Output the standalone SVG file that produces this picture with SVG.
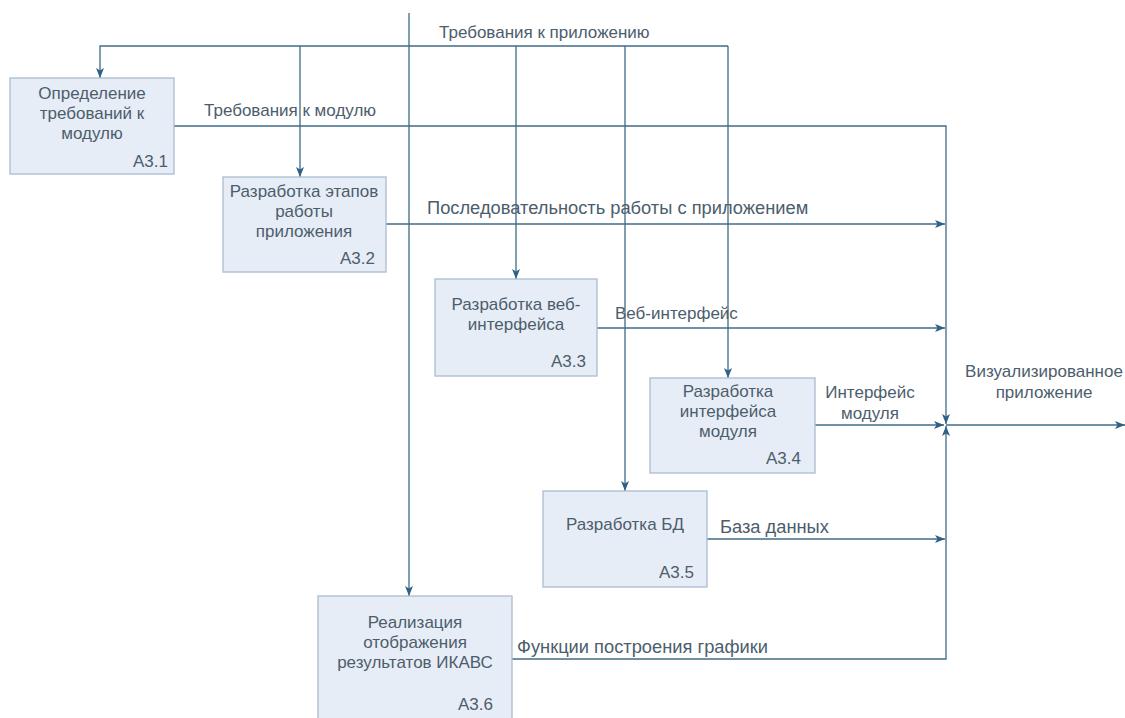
<svg xmlns="http://www.w3.org/2000/svg" width="1125" height="718" viewBox="0 0 1125 718">
<style>
.box{fill:#e7edf6;stroke:#a9bcd0;stroke-width:1.3}
.t{font-family:"Liberation Sans",Arial,sans-serif;font-size:17px;fill:#4c5d6c}
.big{font-size:18.3px}
.c{text-anchor:middle}
.r{text-anchor:end}
.ln{fill:none;stroke:#3f6b88;stroke-width:1.3}
.ar{marker-end:url(#arr)}
</style>
<defs>
<marker id="arr" viewBox="0 0 10 10" refX="10" refY="5" markerWidth="10" markerHeight="10" markerUnits="userSpaceOnUse" orient="auto">
<path d="M0,1 L10,5 L0,9 L2.5,5 Z" fill="#2f5f86"/>
</marker>
</defs>
<rect width="1125" height="718" fill="#ffffff"/>
<g id="connectors">
<path class="ln ar" d="M728,46 H100 V78"/>
<path class="ln ar" d="M300,46 V177"/>
<path class="ln ar" d="M409,13 V596"/>
<path class="ln ar" d="M516,46 V279"/>
<path class="ln ar" d="M625,46 V491"/>
<path class="ln ar" d="M728,46 V378"/>
<path class="ln ar" d="M174,126 H946 V424"/>
<path class="ln ar" d="M386,224 H945"/>
<path class="ln ar" d="M597,328 H945"/>
<path class="ln ar" d="M815,425 H944"/>
<path class="ln ar" d="M707,539 H945"/>
<path class="ln ar" d="M512,659 H946 V426"/>
<path class="ln ar" d="M946,425 H1125"/>
<text class="t" x="439" y="38">Требования к приложению</text>
<text class="t" x="204" y="116">Требования к модулю</text>
<text class="t big" x="427" y="214">Последовательность работы с приложением</text>
<text class="t" x="615" y="319">Веб-интерфейс</text>
<text class="t c" x="870" y="398">Интерфейс</text>
<text class="t c" x="870" y="419">модуля</text>
<text class="t c" x="1044" y="377">Визуализированное</text>
<text class="t c" x="1044" y="398">приложение</text>
<text class="t big" x="720" y="533">База данных</text>
<text class="t big" x="517" y="653">Функции построения графики</text>
</g>
<g id="A3.1">
<rect class="box" x="10" y="78" width="164" height="96"/>
<text class="t c" x="92" y="99">Определение</text>
<text class="t c" x="92" y="119">требований к</text>
<text class="t c" x="92" y="139">модулю</text>
<text class="t r" x="168" y="167">А3.1</text>
</g>
<g id="A3.2">
<rect class="box" x="223" y="177" width="163" height="95"/>
<text class="t c" x="304" y="197">Разработка этапов</text>
<text class="t c" x="304" y="217">работы</text>
<text class="t c" x="304" y="237">приложения</text>
<text class="t r" x="375" y="264">А3.2</text>
</g>
<g id="A3.3">
<rect class="box" x="435" y="279" width="162" height="97"/>
<text class="t c" x="516" y="310">Разработка веб-</text>
<text class="t c" x="516" y="330">интерфейса</text>
<text class="t r" x="586" y="367">А3.3</text>
</g>
<g id="A3.4">
<rect class="box" x="650" y="378" width="165" height="95"/>
<text class="t c" x="728" y="397">Разработка</text>
<text class="t c" x="728" y="417">интерфейса</text>
<text class="t c" x="728" y="437">модуля</text>
<text class="t r" x="801" y="464">А3.4</text>
</g>
<g id="A3.5">
<rect class="box" x="543" y="491" width="164" height="96"/>
<text class="t c" x="625" y="530">Разработка БД</text>
<text class="t r" x="694" y="578">А3.5</text>
</g>
<g id="A3.6">
<rect class="box" x="318" y="596" width="194" height="126"/>
<text class="t c" x="415" y="628">Реализация</text>
<text class="t c" x="415" y="648">отображения</text>
<text class="t c" x="415" y="668">результатов ИКАВС</text>
<text class="t r" x="493" y="710">А3.6</text>
</g>
</svg>
